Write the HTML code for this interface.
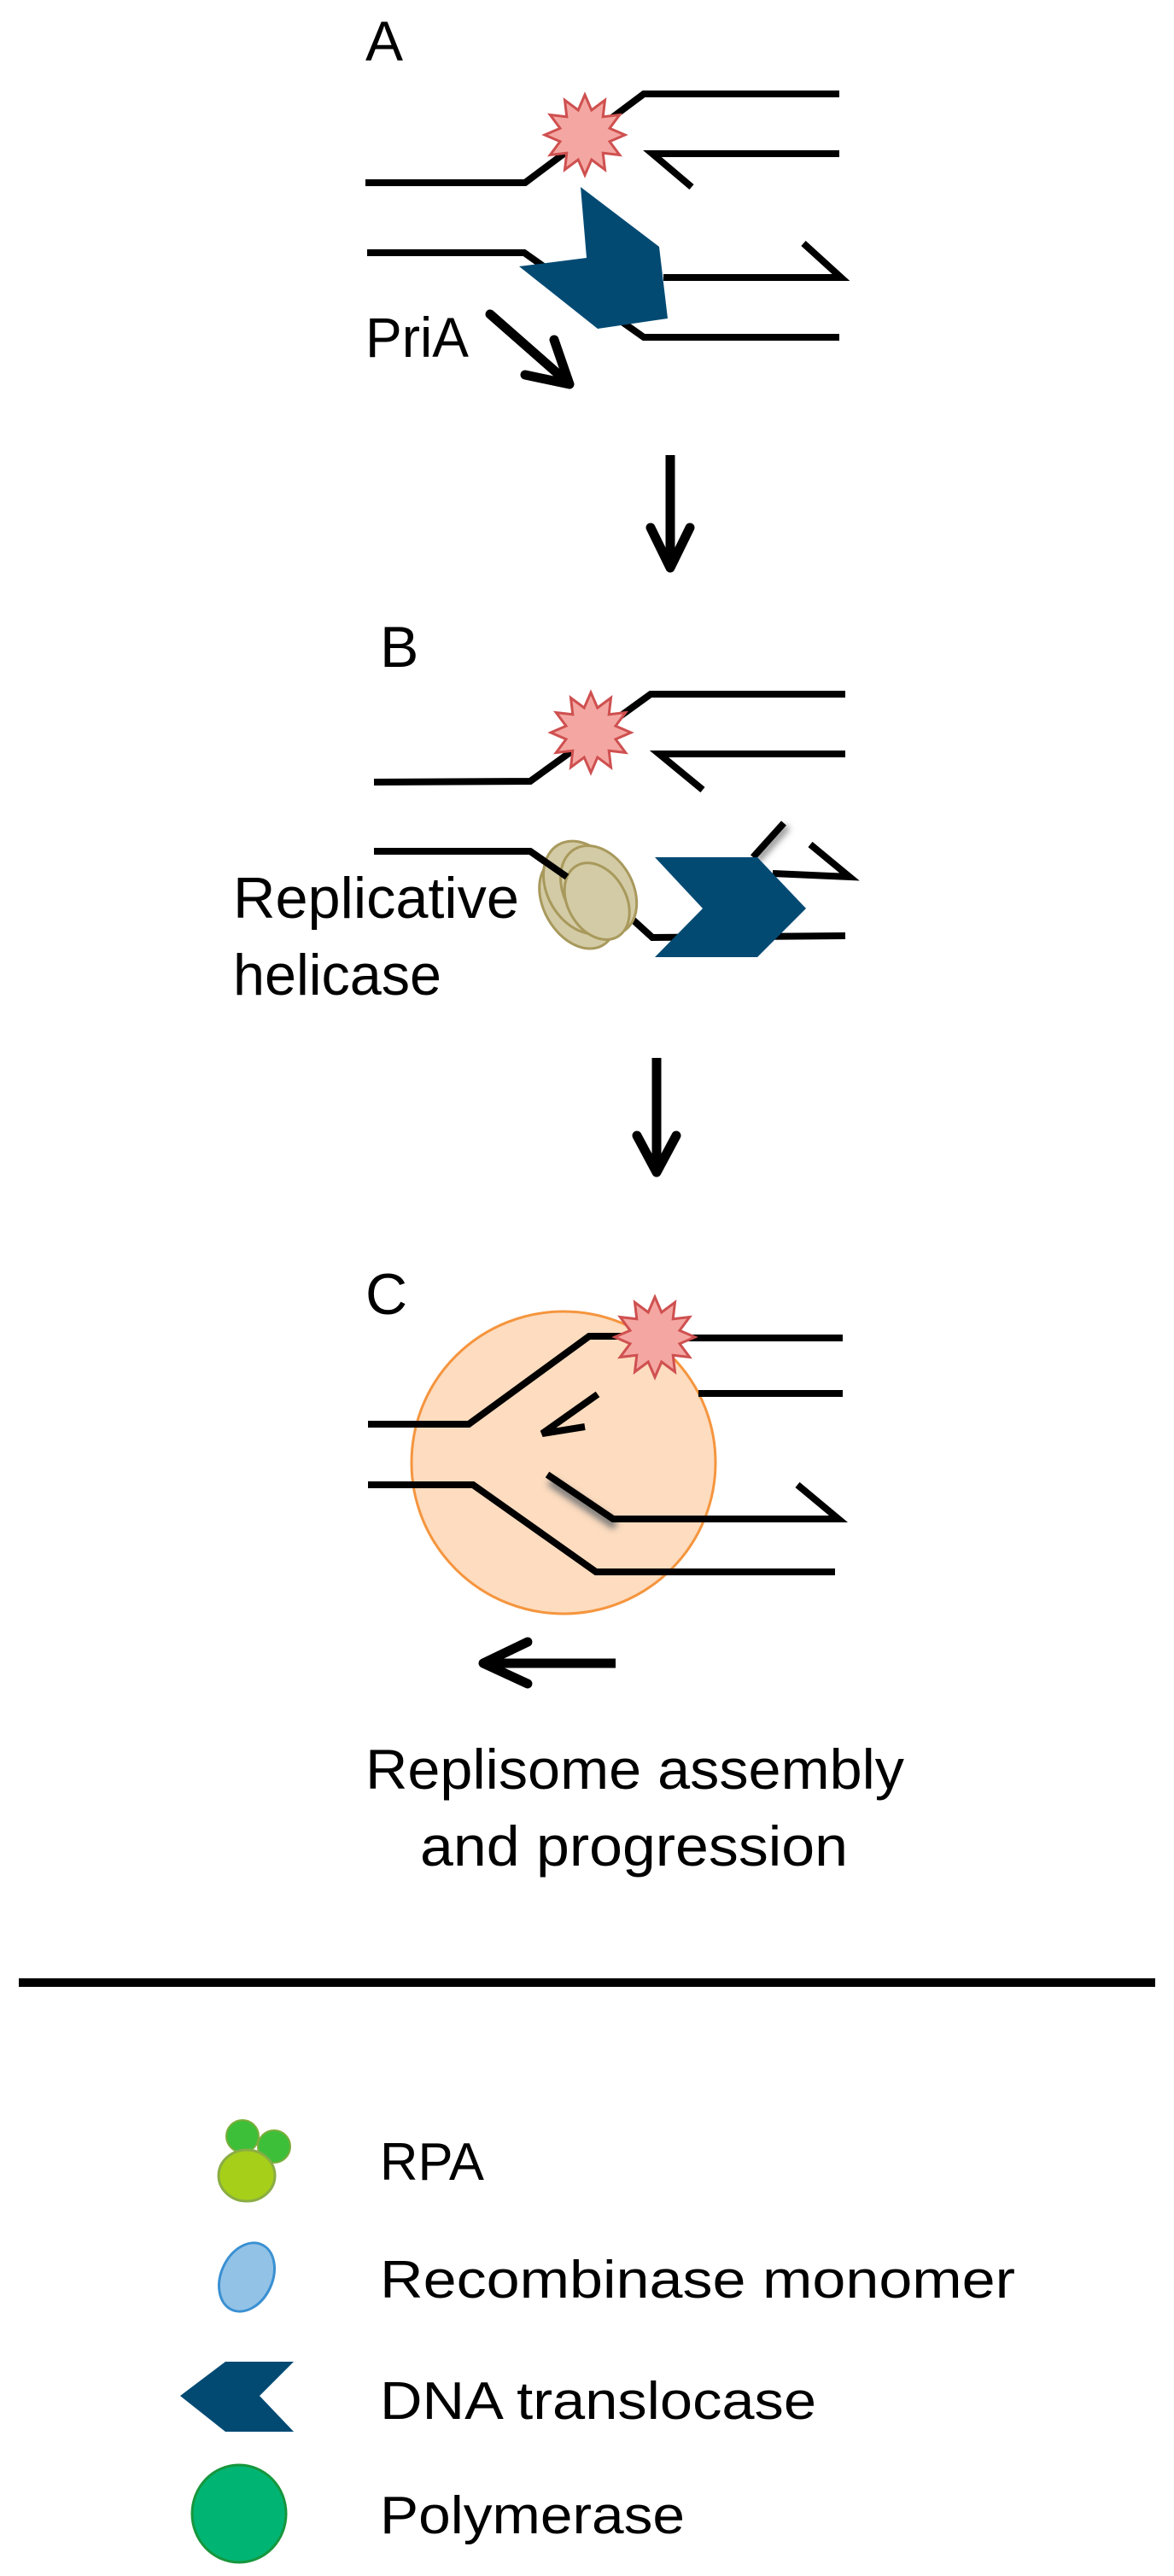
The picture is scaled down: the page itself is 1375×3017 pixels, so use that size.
<!DOCTYPE html>
<html><head><meta charset="utf-8"><style>
html,body{margin:0;padding:0;background:#fff;}
svg{display:block;}
text{font-family:"Liberation Sans",sans-serif;fill:#000;}
</style></head><body>
<svg width="1375" height="3017" viewBox="0 0 1375 3017" xmlns="http://www.w3.org/2000/svg">
<defs>
<polygon id="star" points="47,0 29,7.8 40.7,23.5 21.2,21.2 23.5,40.7 7.8,29 0,47 -7.8,29 -23.5,40.7 -21.2,21.2 -40.7,23.5 -29,7.8 -47,0 -29,-7.8 -40.7,-23.5 -21.2,-21.2 -23.5,-40.7 -7.8,-29 0,-47 7.8,-29 23.5,-40.7 21.2,-21.2 40.7,-23.5 29,-7.8" fill="#f4a7a2" stroke="#cf5050" stroke-width="3"/>
<filter id="sh" x="-50%" y="-50%" width="200%" height="200%"><feGaussianBlur stdDeviation="4"/></filter>
</defs>
<g fill="none" stroke="#000" stroke-width="8" stroke-linejoin="miter">
<!-- A -->
<polyline points="428,214 615,214 754,110 983,110"/>
<polyline points="983,180 764,180 810,219"/>
<polyline points="430,296 614,296 754,395 983,395"/>
<polyline points="777,325 985,325 941,285"/>
</g>
<use href="#star" x="685" y="158"/>
<polygon points="680,219 772,289 782,373 700,385 608,312 687,302" fill="#034a73"/>
<text x="428" y="71" font-size="66">A</text>
<text x="428" y="418" font-size="66" textLength="121" lengthAdjust="spacingAndGlyphs">PriA</text>
<g fill="none" stroke="#000" stroke-width="11" stroke-linecap="round" stroke-linejoin="round">
<line x1="574" y1="368" x2="664" y2="447"/>
<polyline points="649,398 667,450 615,439"/>
<line x1="785" y1="533" x2="785" y2="660" stroke-linecap="butt"/>
<polyline points="762,618 785,665 808,618"/>
<line x1="769" y1="1239" x2="769" y2="1365" stroke-linecap="butt"/>
<polyline points="746,1330 769,1373 792,1330"/>
</g>
<!-- B -->
<text x="445" y="781" font-size="68">B</text>
<g fill="none" stroke="#000" stroke-width="8">
<polyline points="438,916 621,915 762,813 990,813"/>
<polyline points="990,883 772,883 823,925"/>
<polyline points="438,997 621,997 664,1027"/>
<polyline points="741,1077 764,1098 990,1096"/>
<polyline points="905,1023 995,1027 949,989"/>
</g>
<line x1="882" y1="1004" x2="918" y2="964" stroke="#888" stroke-width="8" filter="url(#sh)" transform="translate(4,4)"/>
<line x1="882" y1="1004" x2="918" y2="964" stroke="#000" stroke-width="8"/>
<use href="#star" x="692" y="858"/>
<g transform="translate(685,1043) rotate(-30)" fill="#d3cba5" stroke="#a8995c" stroke-width="3">
<ellipse cx="-14" cy="8" rx="40" ry="58"/>
<ellipse cx="0" cy="-4" rx="42" ry="58"/>
<ellipse cx="14" cy="8" rx="40" ry="56"/>
<ellipse cx="6" cy="18" rx="34" ry="48"/>
</g>
<line x1="621" y1="997" x2="664" y2="1027" stroke="#000" stroke-width="8"/>
<polygon points="767,1004 887,1004 944,1064 887,1121 767,1121 823,1064" fill="#034a73"/>
<text x="273" y="1075" font-size="68" textLength="335" lengthAdjust="spacingAndGlyphs">Replicative</text>
<text x="273" y="1165" font-size="68" textLength="244" lengthAdjust="spacingAndGlyphs">helicase</text>
<!-- C -->
<text x="428" y="1539" font-size="68">C</text>
<ellipse cx="660" cy="1713" rx="178" ry="177" fill="#fddcbf" stroke="#f5953e" stroke-width="3"/>
<polyline points="641,1727 718,1779" fill="none" stroke="#777" stroke-width="10" filter="url(#sh)" transform="translate(3,8)"/>
<g fill="none" stroke="#000" stroke-width="8">
<polyline points="431,1668 549,1668 690,1565 760,1565"/>
<polyline points="790,1567 987,1567"/>
<polyline points="818,1632 987,1632"/>
<polyline points="700,1633 635,1679 685,1671"/>
<polyline points="431,1739 554,1739 698,1841 978,1841"/>
<polyline points="641,1727 718,1779 982,1779 934,1739"/>
</g>
<use href="#star" x="767" y="1566"/>
<g fill="none" stroke="#000" stroke-width="11" stroke-linecap="round" stroke-linejoin="round">
<line x1="721" y1="1948" x2="572" y2="1948" stroke-linecap="butt"/>
<polyline points="618,1923 566,1948 618,1972"/>
</g>
<text x="428" y="2095" font-size="66" textLength="631" lengthAdjust="spacingAndGlyphs">Replisome assembly</text>
<text x="492" y="2185" font-size="66" textLength="501" lengthAdjust="spacingAndGlyphs">and progression</text>
<line x1="22" y1="2322" x2="1353" y2="2322" stroke="#000" stroke-width="10"/>
<!-- Legend -->
<circle cx="284" cy="2502" r="19" fill="#3dbf3a" stroke="#7aae3a" stroke-width="2"/>
<circle cx="321" cy="2514" r="19" fill="#3dbf3a" stroke="#7aae3a" stroke-width="2"/>
<ellipse cx="289" cy="2548" rx="33" ry="30" fill="#a6cf1a" stroke="#8aad44" stroke-width="3"/>
<text x="445" y="2553" font-size="62" textLength="122" lengthAdjust="spacingAndGlyphs">RPA</text>
<ellipse cx="289" cy="2667" rx="30" ry="42" transform="rotate(25 289 2667)" fill="#93c2e7" stroke="#3a90d2" stroke-width="3"/>
<text x="445" y="2691" font-size="62" textLength="744" lengthAdjust="spacingAndGlyphs">Recombinase monomer</text>
<polygon points="211,2806 264,2766 344,2766 304,2806 344,2848 264,2848" fill="#034a73"/>
<text x="445" y="2833" font-size="62" textLength="511" lengthAdjust="spacingAndGlyphs">DNA translocase</text>
<ellipse cx="280" cy="2944" rx="55" ry="57" fill="#00b574" stroke="#17963d" stroke-width="3"/>
<text x="445" y="2967" font-size="62" textLength="357" lengthAdjust="spacingAndGlyphs">Polymerase</text>
</svg>
</body></html>
